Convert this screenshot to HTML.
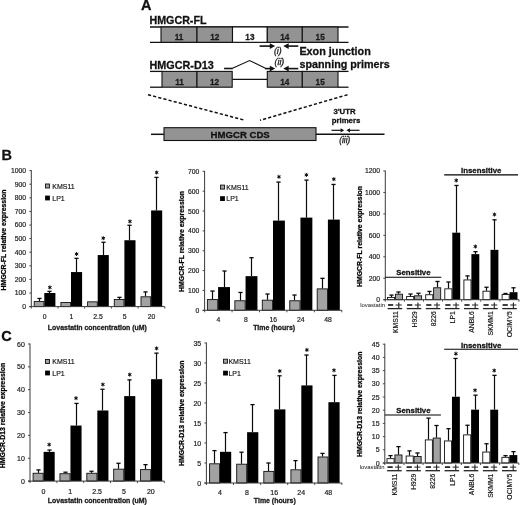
<!DOCTYPE html><html><head><meta charset="utf-8"><style>html,body{margin:0;padding:0;background:#fff;}svg{display:block;filter:grayscale(1);}text{font-family:"Liberation Sans",sans-serif;}</style></head><body>
<svg width="520" height="505" viewBox="0 0 520 505">
<rect width="520" height="505" fill="#fff"/>
<text x="141" y="10.1" font-size="14.5" font-weight="bold" text-anchor="start" fill="#111"  stroke="#111" stroke-width="0.28">A</text>
<text x="149.5" y="23.8" font-size="10.7" font-weight="bold" text-anchor="start" fill="#111"  stroke="#111" stroke-width="0.28">HMGCR-FL</text>
<line x1="150" y1="27" x2="348.5" y2="27" stroke="#111" stroke-width="1.3" />
<line x1="150" y1="42.3" x2="348.5" y2="42.3" stroke="#111" stroke-width="1.3" />
<rect x="161" y="27" width="36" height="15.3" fill="#939393" stroke="#111" stroke-width="1.1"/>
<text x="179" y="39.7" font-size="8.2" font-weight="bold" text-anchor="middle" fill="#1a1a1a"  stroke="#1a1a1a" stroke-width="0.28">11</text>
<rect x="197" y="27" width="35.5" height="15.3" fill="#939393" stroke="#111" stroke-width="1.1"/>
<text x="214.75" y="39.7" font-size="8.2" font-weight="bold" text-anchor="middle" fill="#1a1a1a"  stroke="#1a1a1a" stroke-width="0.28">12</text>
<rect x="232.5" y="27" width="34.8" height="15.3" fill="#fff" stroke="#111" stroke-width="1.1"/>
<text x="249.9" y="39.7" font-size="8.2" font-weight="bold" text-anchor="middle" fill="#1a1a1a"  stroke="#1a1a1a" stroke-width="0.28">13</text>
<rect x="267.3" y="27" width="35" height="15.3" fill="#939393" stroke="#111" stroke-width="1.1"/>
<text x="284.8" y="39.7" font-size="8.2" font-weight="bold" text-anchor="middle" fill="#1a1a1a"  stroke="#1a1a1a" stroke-width="0.28">14</text>
<rect x="302.3" y="27" width="35.7" height="15.3" fill="#939393" stroke="#111" stroke-width="1.1"/>
<text x="320.15" y="39.7" font-size="8.2" font-weight="bold" text-anchor="middle" fill="#1a1a1a"  stroke="#1a1a1a" stroke-width="0.28">15</text>
<text x="149.5" y="69.4" font-size="10.8" font-weight="bold" text-anchor="start" fill="#111"  stroke="#111" stroke-width="0.28">HMGCR-D13</text>
<line x1="150" y1="71.4" x2="162" y2="71.4" stroke="#111" stroke-width="1.3" />
<line x1="150" y1="87.2" x2="162" y2="87.2" stroke="#111" stroke-width="1.3" />
<line x1="232.2" y1="79.4" x2="267.3" y2="79.4" stroke="#111" stroke-width="1.2" />
<line x1="338" y1="71.4" x2="348.5" y2="71.4" stroke="#111" stroke-width="1.3" />
<line x1="338" y1="87.2" x2="348.5" y2="87.2" stroke="#111" stroke-width="1.3" />
<rect x="162" y="71.4" width="35" height="15.8" fill="#939393" stroke="#111" stroke-width="1.1"/>
<text x="179.5" y="84.9" font-size="8.2" font-weight="bold" text-anchor="middle" fill="#1a1a1a"  stroke="#1a1a1a" stroke-width="0.28">11</text>
<rect x="197" y="71.4" width="35.2" height="15.8" fill="#939393" stroke="#111" stroke-width="1.1"/>
<text x="214.6" y="84.9" font-size="8.2" font-weight="bold" text-anchor="middle" fill="#1a1a1a"  stroke="#1a1a1a" stroke-width="0.28">12</text>
<rect x="267.3" y="71.4" width="35" height="15.8" fill="#939393" stroke="#111" stroke-width="1.1"/>
<text x="284.8" y="84.9" font-size="8.2" font-weight="bold" text-anchor="middle" fill="#1a1a1a"  stroke="#1a1a1a" stroke-width="0.28">14</text>
<rect x="302.3" y="71.4" width="35.7" height="15.8" fill="#939393" stroke="#111" stroke-width="1.1"/>
<text x="320.15" y="84.9" font-size="8.2" font-weight="bold" text-anchor="middle" fill="#1a1a1a"  stroke="#1a1a1a" stroke-width="0.28">15</text>
<line x1="224.1" y1="68.5" x2="232.8" y2="68.5" stroke="#111" stroke-width="1.6" />
<polyline points="232.5,68.3 249.6,60.6 265.4,68.2" fill="none" stroke="#111" stroke-width="1.1"/>
<line x1="259.6" y1="46.1" x2="270.3" y2="46.1" stroke="#111" stroke-width="1.6" />
<polygon points="275.2,46.1 269.8,43.2 269.8,49" fill="#111"/>
<line x1="298.3" y1="46.1" x2="288.2" y2="46.1" stroke="#111" stroke-width="1.6" />
<polygon points="283.3,46.1 288.7,43.2 288.7,49" fill="#111"/>
<line x1="265" y1="68.6" x2="270.3" y2="68.6" stroke="#111" stroke-width="1.6" />
<polygon points="275.2,68.6 269.8,65.7 269.8,71.5" fill="#111"/>
<line x1="298.3" y1="68.6" x2="288.2" y2="68.6" stroke="#111" stroke-width="1.6" />
<polygon points="283.3,68.6 288.7,65.7 288.7,71.5" fill="#111"/>
<text x="277.8" y="53.8" font-size="8.8" font-weight="normal" text-anchor="middle" fill="#1a1a1a" font-style="italic" stroke="#1a1a1a" stroke-width="0.3">(i)</text>
<text x="279.4" y="65.3" font-size="8.8" font-weight="normal" text-anchor="middle" fill="#1a1a1a" font-style="italic" stroke="#1a1a1a" stroke-width="0.3">(ii)</text>
<text x="299.4" y="55.2" font-size="10.8" font-weight="bold" text-anchor="start" fill="#111"  stroke="#111" stroke-width="0.28">Exon junction</text>
<text x="299.5" y="68" font-size="10.75" font-weight="bold" text-anchor="start" fill="#111"  stroke="#111" stroke-width="0.28">spanning primers</text>
<line x1="148" y1="94.7" x2="245" y2="120.3" stroke="#111" stroke-width="1.5" stroke-dasharray="3.2,2.1"/>
<line x1="347.5" y1="94.7" x2="260" y2="120.3" stroke="#111" stroke-width="1.5" stroke-dasharray="3.2,2.1"/>
<line x1="151" y1="134.3" x2="164" y2="134.3" stroke="#111" stroke-width="1.5" />
<line x1="316" y1="134.3" x2="384.5" y2="134.3" stroke="#111" stroke-width="1.5" />
<rect x="164" y="127.7" width="152" height="12.8" fill="#939393" stroke="#111" stroke-width="1.1"/>
<text x="240.2" y="137.7" font-size="9.6" font-weight="bold" text-anchor="middle" fill="#111"  stroke="#111" stroke-width="0.28">HMGCR CDS</text>
<text x="344.5" y="114.3" font-size="7.8" font-weight="bold" text-anchor="middle" fill="#111"  stroke="#111" stroke-width="0.28">3'UTR</text>
<text x="346" y="123" font-size="7.8" font-weight="bold" text-anchor="middle" fill="#111"  stroke="#111" stroke-width="0.28">primers</text>
<line x1="331.5" y1="130.3" x2="341.1" y2="130.3" stroke="#111" stroke-width="1.2" />
<polygon points="344.2,130.3 340.6,128.2 340.6,132.4" fill="#111"/>
<line x1="359.5" y1="130.3" x2="349.5" y2="130.3" stroke="#111" stroke-width="1.2" />
<polygon points="346.4,130.3 350,128.2 350,132.4" fill="#111"/>
<text x="344.8" y="142.7" font-size="8.2" font-weight="normal" text-anchor="middle" fill="#1a1a1a" font-style="italic" stroke="#1a1a1a" stroke-width="0.3">(iii)</text>
<text x="1.6" y="160" font-size="14.5" font-weight="bold" text-anchor="start" fill="#111"  stroke="#111" stroke-width="0.28">B</text>
<text x="1.3" y="340.9" font-size="14.5" font-weight="bold" text-anchor="start" fill="#111"  stroke="#111" stroke-width="0.28">C</text>
<line x1="29.3" y1="306.6" x2="31.3" y2="306.6" stroke="#3a3a3a" stroke-width="0.9" />
<text x="26.1" y="309.05" font-size="6.8" font-weight="normal" text-anchor="end" fill="#1a1a1a" stroke="#1a1a1a" stroke-width="0.18">0</text>
<line x1="29.3" y1="293" x2="31.3" y2="293" stroke="#3a3a3a" stroke-width="0.9" />
<text x="26.1" y="295.45" font-size="6.8" font-weight="normal" text-anchor="end" fill="#1a1a1a" stroke="#1a1a1a" stroke-width="0.18">100</text>
<line x1="29.3" y1="279.4" x2="31.3" y2="279.4" stroke="#3a3a3a" stroke-width="0.9" />
<text x="26.1" y="281.85" font-size="6.8" font-weight="normal" text-anchor="end" fill="#1a1a1a" stroke="#1a1a1a" stroke-width="0.18">200</text>
<line x1="29.3" y1="265.8" x2="31.3" y2="265.8" stroke="#3a3a3a" stroke-width="0.9" />
<text x="26.1" y="268.25" font-size="6.8" font-weight="normal" text-anchor="end" fill="#1a1a1a" stroke="#1a1a1a" stroke-width="0.18">300</text>
<line x1="29.3" y1="252.2" x2="31.3" y2="252.2" stroke="#3a3a3a" stroke-width="0.9" />
<text x="26.1" y="254.65" font-size="6.8" font-weight="normal" text-anchor="end" fill="#1a1a1a" stroke="#1a1a1a" stroke-width="0.18">400</text>
<line x1="29.3" y1="238.6" x2="31.3" y2="238.6" stroke="#3a3a3a" stroke-width="0.9" />
<text x="26.1" y="241.05" font-size="6.8" font-weight="normal" text-anchor="end" fill="#1a1a1a" stroke="#1a1a1a" stroke-width="0.18">500</text>
<line x1="29.3" y1="225" x2="31.3" y2="225" stroke="#3a3a3a" stroke-width="0.9" />
<text x="26.1" y="227.45" font-size="6.8" font-weight="normal" text-anchor="end" fill="#1a1a1a" stroke="#1a1a1a" stroke-width="0.18">600</text>
<line x1="29.3" y1="211.4" x2="31.3" y2="211.4" stroke="#3a3a3a" stroke-width="0.9" />
<text x="26.1" y="213.85" font-size="6.8" font-weight="normal" text-anchor="end" fill="#1a1a1a" stroke="#1a1a1a" stroke-width="0.18">700</text>
<line x1="29.3" y1="197.8" x2="31.3" y2="197.8" stroke="#3a3a3a" stroke-width="0.9" />
<text x="26.1" y="200.25" font-size="6.8" font-weight="normal" text-anchor="end" fill="#1a1a1a" stroke="#1a1a1a" stroke-width="0.18">800</text>
<line x1="29.3" y1="184.2" x2="31.3" y2="184.2" stroke="#3a3a3a" stroke-width="0.9" />
<text x="26.1" y="186.65" font-size="6.8" font-weight="normal" text-anchor="end" fill="#1a1a1a" stroke="#1a1a1a" stroke-width="0.18">900</text>
<line x1="29.3" y1="170.6" x2="31.3" y2="170.6" stroke="#3a3a3a" stroke-width="0.9" />
<text x="26.1" y="173.05" font-size="6.8" font-weight="normal" text-anchor="end" fill="#1a1a1a" stroke="#1a1a1a" stroke-width="0.18">1000</text>
<line x1="39.5" y1="301.16" x2="39.5" y2="298.44" stroke="#0a0a0a" stroke-width="1.2" />
<line x1="37.4" y1="298.44" x2="41.6" y2="298.44" stroke="#0a0a0a" stroke-width="1.3" />
<rect x="34.2" y="301.56" width="9.7" height="5.04" fill="#a2a2a2" stroke="#111" stroke-width="0.9"/>
<line x1="49.5" y1="293" x2="49.5" y2="291.37" stroke="#0a0a0a" stroke-width="1.2" />
<line x1="47.4" y1="291.37" x2="51.6" y2="291.37" stroke="#0a0a0a" stroke-width="1.3" />
<rect x="44.3" y="293" width="11.1" height="13.6" fill="#000"/>
<rect x="60.9" y="302.51" width="9.7" height="4.09" fill="#a2a2a2" stroke="#111" stroke-width="0.9"/>
<line x1="76.5" y1="272.06" x2="76.5" y2="258.32" stroke="#0a0a0a" stroke-width="1.2" />
<line x1="74.4" y1="258.32" x2="78.6" y2="258.32" stroke="#0a0a0a" stroke-width="1.3" />
<rect x="71" y="272.06" width="11.1" height="34.54" fill="#000"/>
<rect x="87.6" y="301.83" width="9.7" height="4.77" fill="#a2a2a2" stroke="#111" stroke-width="0.9"/>
<line x1="103.5" y1="255.06" x2="103.5" y2="242.27" stroke="#0a0a0a" stroke-width="1.2" />
<line x1="101.4" y1="242.27" x2="105.6" y2="242.27" stroke="#0a0a0a" stroke-width="1.3" />
<rect x="97.7" y="255.06" width="11.1" height="51.54" fill="#000"/>
<line x1="119.5" y1="299.12" x2="119.5" y2="297.35" stroke="#0a0a0a" stroke-width="1.2" />
<line x1="117.4" y1="297.35" x2="121.6" y2="297.35" stroke="#0a0a0a" stroke-width="1.3" />
<rect x="114.3" y="299.52" width="9.7" height="7.08" fill="#a2a2a2" stroke="#111" stroke-width="0.9"/>
<line x1="129.5" y1="240.23" x2="129.5" y2="225.27" stroke="#0a0a0a" stroke-width="1.2" />
<line x1="127.4" y1="225.27" x2="131.6" y2="225.27" stroke="#0a0a0a" stroke-width="1.3" />
<rect x="124.4" y="240.23" width="11.1" height="66.37" fill="#000"/>
<line x1="145.5" y1="296.4" x2="145.5" y2="291.91" stroke="#0a0a0a" stroke-width="1.2" />
<line x1="143.4" y1="291.91" x2="147.6" y2="291.91" stroke="#0a0a0a" stroke-width="1.3" />
<rect x="141" y="296.8" width="9.7" height="9.8" fill="#a2a2a2" stroke="#111" stroke-width="0.9"/>
<line x1="156.5" y1="210.45" x2="156.5" y2="177.4" stroke="#0a0a0a" stroke-width="1.2" />
<line x1="154.4" y1="177.4" x2="158.6" y2="177.4" stroke="#0a0a0a" stroke-width="1.3" />
<rect x="151.1" y="210.45" width="11.1" height="96.15" fill="#000"/>
<circle cx="49.85" cy="287.4" r="1.0" fill="#000"/>
<line x1="49.85" y1="285.4" x2="49.85" y2="289.4" stroke="#111" stroke-width="1" />
<line x1="48.12" y1="286.4" x2="51.58" y2="288.4" stroke="#111" stroke-width="1" />
<line x1="51.58" y1="286.4" x2="48.12" y2="288.4" stroke="#111" stroke-width="1" />
<circle cx="76.55" cy="254" r="1.0" fill="#000"/>
<line x1="76.55" y1="252" x2="76.55" y2="256" stroke="#111" stroke-width="1" />
<line x1="74.82" y1="253" x2="78.28" y2="255" stroke="#111" stroke-width="1" />
<line x1="78.28" y1="253" x2="74.82" y2="255" stroke="#111" stroke-width="1" />
<circle cx="103.25" cy="238.2" r="1.0" fill="#000"/>
<line x1="103.25" y1="236.2" x2="103.25" y2="240.2" stroke="#111" stroke-width="1" />
<line x1="101.52" y1="237.2" x2="104.98" y2="239.2" stroke="#111" stroke-width="1" />
<line x1="104.98" y1="237.2" x2="101.52" y2="239.2" stroke="#111" stroke-width="1" />
<circle cx="129.95" cy="221.4" r="1.0" fill="#000"/>
<line x1="129.95" y1="219.4" x2="129.95" y2="223.4" stroke="#111" stroke-width="1" />
<line x1="128.22" y1="220.4" x2="131.68" y2="222.4" stroke="#111" stroke-width="1" />
<line x1="131.68" y1="220.4" x2="128.22" y2="222.4" stroke="#111" stroke-width="1" />
<circle cx="156.65" cy="172.5" r="1.0" fill="#000"/>
<line x1="156.65" y1="170.5" x2="156.65" y2="174.5" stroke="#111" stroke-width="1" />
<line x1="154.92" y1="171.5" x2="158.38" y2="173.5" stroke="#111" stroke-width="1" />
<line x1="158.38" y1="171.5" x2="154.92" y2="173.5" stroke="#111" stroke-width="1" />
<line x1="31.3" y1="170.1" x2="31.3" y2="307.1" stroke="#3a3a3a" stroke-width="1" />
<line x1="29.3" y1="306.6" x2="164.8" y2="306.6" stroke="#3a3a3a" stroke-width="1" />
<line x1="31.3" y1="306.6" x2="31.3" y2="308.6" stroke="#3a3a3a" stroke-width="0.9" />
<line x1="58" y1="306.6" x2="58" y2="308.6" stroke="#3a3a3a" stroke-width="0.9" />
<line x1="84.7" y1="306.6" x2="84.7" y2="308.6" stroke="#3a3a3a" stroke-width="0.9" />
<line x1="111.4" y1="306.6" x2="111.4" y2="308.6" stroke="#3a3a3a" stroke-width="0.9" />
<line x1="138.1" y1="306.6" x2="138.1" y2="308.6" stroke="#3a3a3a" stroke-width="0.9" />
<line x1="164.8" y1="306.6" x2="164.8" y2="308.6" stroke="#3a3a3a" stroke-width="0.9" />
<text x="44.65" y="318.5" font-size="6.8" font-weight="normal" text-anchor="middle" fill="#1a1a1a" stroke="#1a1a1a" stroke-width="0.18">0</text>
<text x="71.35" y="318.5" font-size="6.8" font-weight="normal" text-anchor="middle" fill="#1a1a1a" stroke="#1a1a1a" stroke-width="0.18">1</text>
<text x="98.05" y="318.5" font-size="6.8" font-weight="normal" text-anchor="middle" fill="#1a1a1a" stroke="#1a1a1a" stroke-width="0.18">2.5</text>
<text x="124.75" y="318.5" font-size="6.8" font-weight="normal" text-anchor="middle" fill="#1a1a1a" stroke="#1a1a1a" stroke-width="0.18">5</text>
<text x="151.45" y="318.5" font-size="6.8" font-weight="normal" text-anchor="middle" fill="#1a1a1a" stroke="#1a1a1a" stroke-width="0.18">20</text>
<text x="97.4" y="330.1" font-size="6.95" font-weight="bold" text-anchor="middle" fill="#1a1a1a"  stroke="#1a1a1a" stroke-width="0.28">Lovastatin concentration (uM)</text>
<text transform="translate(5.9,240) rotate(-90)" x="0" y="0" font-size="6.9" font-weight="bold" text-anchor="middle" fill="#000" stroke="#000" stroke-width="0.25">HMGCR-FL relative expression</text>
<rect x="45.5" y="184" width="4" height="4" fill="#a2a2a2" stroke="#111" stroke-width="0.9"/>
<rect x="45.1" y="195.6" width="4.8" height="4.8" fill="#000"/>
<text x="52.3" y="188.5" font-size="7" font-weight="normal" text-anchor="start" fill="#111" stroke="#111" stroke-width="0.15">KMS11</text>
<text x="52.3" y="200.5" font-size="7" font-weight="normal" text-anchor="start" fill="#111" stroke="#111" stroke-width="0.15">LP1</text>
<line x1="202.6" y1="310.3" x2="204.6" y2="310.3" stroke="#3a3a3a" stroke-width="0.9" />
<text x="199.4" y="312.75" font-size="6.8" font-weight="normal" text-anchor="end" fill="#1a1a1a" stroke="#1a1a1a" stroke-width="0.18">0</text>
<line x1="202.6" y1="290.45" x2="204.6" y2="290.45" stroke="#3a3a3a" stroke-width="0.9" />
<text x="199.4" y="292.9" font-size="6.8" font-weight="normal" text-anchor="end" fill="#1a1a1a" stroke="#1a1a1a" stroke-width="0.18">100</text>
<line x1="202.6" y1="270.6" x2="204.6" y2="270.6" stroke="#3a3a3a" stroke-width="0.9" />
<text x="199.4" y="273.05" font-size="6.8" font-weight="normal" text-anchor="end" fill="#1a1a1a" stroke="#1a1a1a" stroke-width="0.18">200</text>
<line x1="202.6" y1="250.75" x2="204.6" y2="250.75" stroke="#3a3a3a" stroke-width="0.9" />
<text x="199.4" y="253.2" font-size="6.8" font-weight="normal" text-anchor="end" fill="#1a1a1a" stroke="#1a1a1a" stroke-width="0.18">300</text>
<line x1="202.6" y1="230.9" x2="204.6" y2="230.9" stroke="#3a3a3a" stroke-width="0.9" />
<text x="199.4" y="233.35" font-size="6.8" font-weight="normal" text-anchor="end" fill="#1a1a1a" stroke="#1a1a1a" stroke-width="0.18">400</text>
<line x1="202.6" y1="211.05" x2="204.6" y2="211.05" stroke="#3a3a3a" stroke-width="0.9" />
<text x="199.4" y="213.5" font-size="6.8" font-weight="normal" text-anchor="end" fill="#1a1a1a" stroke="#1a1a1a" stroke-width="0.18">500</text>
<line x1="202.6" y1="191.2" x2="204.6" y2="191.2" stroke="#3a3a3a" stroke-width="0.9" />
<text x="199.4" y="193.65" font-size="6.8" font-weight="normal" text-anchor="end" fill="#1a1a1a" stroke="#1a1a1a" stroke-width="0.18">600</text>
<line x1="202.6" y1="171.35" x2="204.6" y2="171.35" stroke="#3a3a3a" stroke-width="0.9" />
<text x="199.4" y="173.8" font-size="6.8" font-weight="normal" text-anchor="end" fill="#1a1a1a" stroke="#1a1a1a" stroke-width="0.18">700</text>
<line x1="212.5" y1="299.18" x2="212.5" y2="291.05" stroke="#0a0a0a" stroke-width="1.2" />
<line x1="210.4" y1="291.05" x2="214.6" y2="291.05" stroke="#0a0a0a" stroke-width="1.3" />
<rect x="207.4" y="299.58" width="10.3" height="10.72" fill="#a2a2a2" stroke="#111" stroke-width="0.9"/>
<line x1="224.5" y1="287.08" x2="224.5" y2="271" stroke="#0a0a0a" stroke-width="1.2" />
<line x1="222.4" y1="271" x2="226.6" y2="271" stroke="#0a0a0a" stroke-width="1.3" />
<rect x="218.1" y="287.08" width="11.9" height="23.22" fill="#000"/>
<line x1="240.5" y1="300.38" x2="240.5" y2="292.44" stroke="#0a0a0a" stroke-width="1.2" />
<line x1="238.4" y1="292.44" x2="242.6" y2="292.44" stroke="#0a0a0a" stroke-width="1.3" />
<rect x="234.85" y="300.77" width="10.3" height="9.53" fill="#a2a2a2" stroke="#111" stroke-width="0.9"/>
<line x1="251.5" y1="276.16" x2="251.5" y2="257.7" stroke="#0a0a0a" stroke-width="1.2" />
<line x1="249.4" y1="257.7" x2="253.6" y2="257.7" stroke="#0a0a0a" stroke-width="1.3" />
<rect x="245.55" y="276.16" width="11.9" height="34.14" fill="#000"/>
<line x1="267.5" y1="299.78" x2="267.5" y2="294.02" stroke="#0a0a0a" stroke-width="1.2" />
<line x1="265.4" y1="294.02" x2="269.6" y2="294.02" stroke="#0a0a0a" stroke-width="1.3" />
<rect x="262.3" y="300.18" width="10.3" height="10.12" fill="#a2a2a2" stroke="#111" stroke-width="0.9"/>
<line x1="278.5" y1="220.58" x2="278.5" y2="182.07" stroke="#0a0a0a" stroke-width="1.2" />
<line x1="276.4" y1="182.07" x2="280.6" y2="182.07" stroke="#0a0a0a" stroke-width="1.3" />
<rect x="273" y="220.58" width="11.9" height="89.72" fill="#000"/>
<line x1="294.5" y1="300.38" x2="294.5" y2="295.02" stroke="#0a0a0a" stroke-width="1.2" />
<line x1="292.4" y1="295.02" x2="296.6" y2="295.02" stroke="#0a0a0a" stroke-width="1.3" />
<rect x="289.75" y="300.77" width="10.3" height="9.53" fill="#a2a2a2" stroke="#111" stroke-width="0.9"/>
<line x1="306.5" y1="217.6" x2="306.5" y2="180.08" stroke="#0a0a0a" stroke-width="1.2" />
<line x1="304.4" y1="180.08" x2="308.6" y2="180.08" stroke="#0a0a0a" stroke-width="1.3" />
<rect x="300.45" y="217.6" width="11.9" height="92.7" fill="#000"/>
<line x1="322.5" y1="288.47" x2="322.5" y2="278.34" stroke="#0a0a0a" stroke-width="1.2" />
<line x1="320.4" y1="278.34" x2="324.6" y2="278.34" stroke="#0a0a0a" stroke-width="1.3" />
<rect x="317.2" y="288.87" width="10.3" height="21.44" fill="#a2a2a2" stroke="#111" stroke-width="0.9"/>
<line x1="333.5" y1="219.59" x2="333.5" y2="184.45" stroke="#0a0a0a" stroke-width="1.2" />
<line x1="331.4" y1="184.45" x2="335.6" y2="184.45" stroke="#0a0a0a" stroke-width="1.3" />
<rect x="327.9" y="219.59" width="11.9" height="90.71" fill="#000"/>
<circle cx="278.95" cy="176.8" r="1.0" fill="#000"/>
<line x1="278.95" y1="174.8" x2="278.95" y2="178.8" stroke="#111" stroke-width="1" />
<line x1="277.22" y1="175.8" x2="280.68" y2="177.8" stroke="#111" stroke-width="1" />
<line x1="280.68" y1="175.8" x2="277.22" y2="177.8" stroke="#111" stroke-width="1" />
<circle cx="306.4" cy="174.9" r="1.0" fill="#000"/>
<line x1="306.4" y1="172.9" x2="306.4" y2="176.9" stroke="#111" stroke-width="1" />
<line x1="304.67" y1="173.9" x2="308.13" y2="175.9" stroke="#111" stroke-width="1" />
<line x1="308.13" y1="173.9" x2="304.67" y2="175.9" stroke="#111" stroke-width="1" />
<circle cx="333.85" cy="179.2" r="1.0" fill="#000"/>
<line x1="333.85" y1="177.2" x2="333.85" y2="181.2" stroke="#111" stroke-width="1" />
<line x1="332.12" y1="178.2" x2="335.58" y2="180.2" stroke="#111" stroke-width="1" />
<line x1="335.58" y1="178.2" x2="332.12" y2="180.2" stroke="#111" stroke-width="1" />
<line x1="204.6" y1="170.85" x2="204.6" y2="310.8" stroke="#3a3a3a" stroke-width="1" />
<line x1="202.6" y1="310.3" x2="341.85" y2="310.3" stroke="#3a3a3a" stroke-width="1" />
<line x1="204.6" y1="310.3" x2="204.6" y2="312.3" stroke="#3a3a3a" stroke-width="0.9" />
<line x1="232.05" y1="310.3" x2="232.05" y2="312.3" stroke="#3a3a3a" stroke-width="0.9" />
<line x1="259.5" y1="310.3" x2="259.5" y2="312.3" stroke="#3a3a3a" stroke-width="0.9" />
<line x1="286.95" y1="310.3" x2="286.95" y2="312.3" stroke="#3a3a3a" stroke-width="0.9" />
<line x1="314.4" y1="310.3" x2="314.4" y2="312.3" stroke="#3a3a3a" stroke-width="0.9" />
<line x1="341.85" y1="310.3" x2="341.85" y2="312.3" stroke="#3a3a3a" stroke-width="0.9" />
<text x="218.32" y="322.2" font-size="6.8" font-weight="normal" text-anchor="middle" fill="#1a1a1a" stroke="#1a1a1a" stroke-width="0.18">4</text>
<text x="245.77" y="322.2" font-size="6.8" font-weight="normal" text-anchor="middle" fill="#1a1a1a" stroke="#1a1a1a" stroke-width="0.18">8</text>
<text x="273.23" y="322.2" font-size="6.8" font-weight="normal" text-anchor="middle" fill="#1a1a1a" stroke="#1a1a1a" stroke-width="0.18">16</text>
<text x="300.68" y="322.2" font-size="6.8" font-weight="normal" text-anchor="middle" fill="#1a1a1a" stroke="#1a1a1a" stroke-width="0.18">24</text>
<text x="328.12" y="322.2" font-size="6.8" font-weight="normal" text-anchor="middle" fill="#1a1a1a" stroke="#1a1a1a" stroke-width="0.18">48</text>
<text x="274.2" y="329.5" font-size="6.95" font-weight="bold" text-anchor="middle" fill="#1a1a1a"  stroke="#1a1a1a" stroke-width="0.28">Time (hours)</text>
<text transform="translate(183.5,241.4) rotate(-90)" x="0" y="0" font-size="6.9" font-weight="bold" text-anchor="middle" fill="#000" stroke="#000" stroke-width="0.25">HMGCR-FL relative expression</text>
<rect x="220.5" y="185.1" width="4" height="4" fill="#a2a2a2" stroke="#111" stroke-width="0.9"/>
<rect x="220.1" y="196.2" width="4.8" height="4.8" fill="#000"/>
<text x="226.3" y="189.6" font-size="7" font-weight="normal" text-anchor="start" fill="#111" stroke="#111" stroke-width="0.15">KMS11</text>
<text x="226.3" y="201.1" font-size="7" font-weight="normal" text-anchor="start" fill="#111" stroke="#111" stroke-width="0.15">LP1</text>
<line x1="383.3" y1="299.7" x2="385.3" y2="299.7" stroke="#3a3a3a" stroke-width="0.9" />
<text x="380.1" y="302.15" font-size="6.8" font-weight="normal" text-anchor="end" fill="#1a1a1a" stroke="#1a1a1a" stroke-width="0.18">0</text>
<line x1="383.3" y1="278.25" x2="385.3" y2="278.25" stroke="#3a3a3a" stroke-width="0.9" />
<text x="380.1" y="280.7" font-size="6.8" font-weight="normal" text-anchor="end" fill="#1a1a1a" stroke="#1a1a1a" stroke-width="0.18">200</text>
<line x1="383.3" y1="256.8" x2="385.3" y2="256.8" stroke="#3a3a3a" stroke-width="0.9" />
<text x="380.1" y="259.25" font-size="6.8" font-weight="normal" text-anchor="end" fill="#1a1a1a" stroke="#1a1a1a" stroke-width="0.18">400</text>
<line x1="383.3" y1="235.35" x2="385.3" y2="235.35" stroke="#3a3a3a" stroke-width="0.9" />
<text x="380.1" y="237.8" font-size="6.8" font-weight="normal" text-anchor="end" fill="#1a1a1a" stroke="#1a1a1a" stroke-width="0.18">600</text>
<line x1="383.3" y1="213.9" x2="385.3" y2="213.9" stroke="#3a3a3a" stroke-width="0.9" />
<text x="380.1" y="216.35" font-size="6.8" font-weight="normal" text-anchor="end" fill="#1a1a1a" stroke="#1a1a1a" stroke-width="0.18">800</text>
<line x1="383.3" y1="192.45" x2="385.3" y2="192.45" stroke="#3a3a3a" stroke-width="0.9" />
<text x="380.1" y="194.9" font-size="6.8" font-weight="normal" text-anchor="end" fill="#1a1a1a" stroke="#1a1a1a" stroke-width="0.18">1000</text>
<line x1="383.3" y1="171" x2="385.3" y2="171" stroke="#3a3a3a" stroke-width="0.9" />
<text x="380.1" y="173.45" font-size="6.8" font-weight="normal" text-anchor="end" fill="#1a1a1a" stroke="#1a1a1a" stroke-width="0.18">1200</text>
<line x1="391.5" y1="297.02" x2="391.5" y2="295.09" stroke="#0a0a0a" stroke-width="1.2" />
<line x1="389.4" y1="295.09" x2="393.6" y2="295.09" stroke="#0a0a0a" stroke-width="1.3" />
<rect x="387.5" y="297.42" width="7.1" height="2.28" fill="#fff" stroke="#111" stroke-width="0.9"/>
<line x1="398.5" y1="293.8" x2="398.5" y2="291.98" stroke="#0a0a0a" stroke-width="1.2" />
<line x1="396.4" y1="291.98" x2="400.6" y2="291.98" stroke="#0a0a0a" stroke-width="1.3" />
<rect x="395.4" y="294.2" width="7.1" height="5.5" fill="#a2a2a2" stroke="#111" stroke-width="0.9"/>
<line x1="410.5" y1="296.16" x2="410.5" y2="294.02" stroke="#0a0a0a" stroke-width="1.2" />
<line x1="408.4" y1="294.02" x2="412.6" y2="294.02" stroke="#0a0a0a" stroke-width="1.3" />
<rect x="406.6" y="296.56" width="7.1" height="3.14" fill="#fff" stroke="#111" stroke-width="0.9"/>
<line x1="418.5" y1="295.41" x2="418.5" y2="293.26" stroke="#0a0a0a" stroke-width="1.2" />
<line x1="416.4" y1="293.26" x2="420.6" y2="293.26" stroke="#0a0a0a" stroke-width="1.3" />
<rect x="414.5" y="295.81" width="7.1" height="3.89" fill="#a2a2a2" stroke="#111" stroke-width="0.9"/>
<line x1="429.5" y1="294.34" x2="429.5" y2="291.44" stroke="#0a0a0a" stroke-width="1.2" />
<line x1="427.4" y1="291.44" x2="431.6" y2="291.44" stroke="#0a0a0a" stroke-width="1.3" />
<rect x="425.7" y="294.74" width="7.1" height="4.96" fill="#fff" stroke="#111" stroke-width="0.9"/>
<line x1="437.5" y1="287.37" x2="437.5" y2="281.47" stroke="#0a0a0a" stroke-width="1.2" />
<line x1="435.4" y1="281.47" x2="439.6" y2="281.47" stroke="#0a0a0a" stroke-width="1.3" />
<rect x="433.6" y="287.77" width="7.1" height="11.93" fill="#a2a2a2" stroke="#111" stroke-width="0.9"/>
<line x1="448.5" y1="288.44" x2="448.5" y2="282" stroke="#0a0a0a" stroke-width="1.2" />
<line x1="446.4" y1="282" x2="450.6" y2="282" stroke="#0a0a0a" stroke-width="1.3" />
<rect x="444.8" y="288.84" width="7.1" height="10.86" fill="#fff" stroke="#111" stroke-width="0.9"/>
<line x1="456.5" y1="232.67" x2="456.5" y2="185.48" stroke="#0a0a0a" stroke-width="1.2" />
<line x1="454.4" y1="185.48" x2="458.6" y2="185.48" stroke="#0a0a0a" stroke-width="1.3" />
<rect x="452.3" y="232.67" width="7.9" height="67.03" fill="#000"/>
<line x1="467.5" y1="279.54" x2="467.5" y2="275.89" stroke="#0a0a0a" stroke-width="1.2" />
<line x1="465.4" y1="275.89" x2="469.6" y2="275.89" stroke="#0a0a0a" stroke-width="1.3" />
<rect x="463.9" y="279.94" width="7.1" height="19.76" fill="#fff" stroke="#111" stroke-width="0.9"/>
<line x1="475.5" y1="254.12" x2="475.5" y2="251.65" stroke="#0a0a0a" stroke-width="1.2" />
<line x1="473.4" y1="251.65" x2="477.6" y2="251.65" stroke="#0a0a0a" stroke-width="1.3" />
<rect x="471.4" y="254.12" width="7.9" height="45.58" fill="#000"/>
<line x1="486.5" y1="290.8" x2="486.5" y2="287.26" stroke="#0a0a0a" stroke-width="1.2" />
<line x1="484.4" y1="287.26" x2="488.6" y2="287.26" stroke="#0a0a0a" stroke-width="1.3" />
<rect x="483" y="291.2" width="7.1" height="8.5" fill="#fff" stroke="#111" stroke-width="0.9"/>
<line x1="494.5" y1="249.83" x2="494.5" y2="219.8" stroke="#0a0a0a" stroke-width="1.2" />
<line x1="492.4" y1="219.8" x2="496.6" y2="219.8" stroke="#0a0a0a" stroke-width="1.3" />
<rect x="490.5" y="249.83" width="7.9" height="49.87" fill="#000"/>
<line x1="505.5" y1="294.12" x2="505.5" y2="293.48" stroke="#0a0a0a" stroke-width="1.2" />
<line x1="503.4" y1="293.48" x2="507.6" y2="293.48" stroke="#0a0a0a" stroke-width="1.3" />
<rect x="502.1" y="294.52" width="7.1" height="5.18" fill="#fff" stroke="#111" stroke-width="0.9"/>
<line x1="513.5" y1="292.19" x2="513.5" y2="287.8" stroke="#0a0a0a" stroke-width="1.2" />
<line x1="511.4" y1="287.8" x2="515.6" y2="287.8" stroke="#0a0a0a" stroke-width="1.3" />
<rect x="509.6" y="292.19" width="7.9" height="7.51" fill="#000"/>
<circle cx="456.25" cy="180.4" r="1.0" fill="#000"/>
<line x1="456.25" y1="178.4" x2="456.25" y2="182.4" stroke="#111" stroke-width="1" />
<line x1="454.52" y1="179.4" x2="457.98" y2="181.4" stroke="#111" stroke-width="1" />
<line x1="457.98" y1="179.4" x2="454.52" y2="181.4" stroke="#111" stroke-width="1" />
<circle cx="475.35" cy="246.5" r="1.0" fill="#000"/>
<line x1="475.35" y1="244.5" x2="475.35" y2="248.5" stroke="#111" stroke-width="1" />
<line x1="473.62" y1="245.5" x2="477.08" y2="247.5" stroke="#111" stroke-width="1" />
<line x1="477.08" y1="245.5" x2="473.62" y2="247.5" stroke="#111" stroke-width="1" />
<circle cx="494.45" cy="214.5" r="1.0" fill="#000"/>
<line x1="494.45" y1="212.5" x2="494.45" y2="216.5" stroke="#111" stroke-width="1" />
<line x1="492.72" y1="213.5" x2="496.18" y2="215.5" stroke="#111" stroke-width="1" />
<line x1="496.18" y1="213.5" x2="492.72" y2="215.5" stroke="#111" stroke-width="1" />
<line x1="385.3" y1="170.5" x2="385.3" y2="300.2" stroke="#3a3a3a" stroke-width="1" />
<line x1="383.3" y1="299.7" x2="519" y2="299.7" stroke="#3a3a3a" stroke-width="1" />
<line x1="385.3" y1="299.7" x2="385.3" y2="301.7" stroke="#3a3a3a" stroke-width="0.9" />
<line x1="404.4" y1="299.7" x2="404.4" y2="301.7" stroke="#3a3a3a" stroke-width="0.9" />
<line x1="423.5" y1="299.7" x2="423.5" y2="301.7" stroke="#3a3a3a" stroke-width="0.9" />
<line x1="442.6" y1="299.7" x2="442.6" y2="301.7" stroke="#3a3a3a" stroke-width="0.9" />
<line x1="461.7" y1="299.7" x2="461.7" y2="301.7" stroke="#3a3a3a" stroke-width="0.9" />
<line x1="480.8" y1="299.7" x2="480.8" y2="301.7" stroke="#3a3a3a" stroke-width="0.9" />
<line x1="499.9" y1="299.7" x2="499.9" y2="301.7" stroke="#3a3a3a" stroke-width="0.9" />
<line x1="519" y1="299.7" x2="519" y2="301.7" stroke="#3a3a3a" stroke-width="0.9" />
<text transform="translate(362,236.5) rotate(-90)" x="0" y="0" font-size="6.9" font-weight="bold" text-anchor="middle" fill="#000" stroke="#000" stroke-width="0.25">HMGCR-FL relative expression</text>
<line x1="385.3" y1="277.2" x2="441.26" y2="277.2" stroke="#000" stroke-width="1.1" />
<text x="413.4" y="275.2" font-size="7.8" font-weight="bold" text-anchor="middle" fill="#111"  stroke="#111" stroke-width="0.28">Sensitive</text>
<line x1="444.2" y1="174.9" x2="518" y2="174.9" stroke="#000" stroke-width="1.1" />
<text x="481.2" y="173.2" font-size="7.8" font-weight="bold" text-anchor="middle" fill="#111"  stroke="#111" stroke-width="0.28">Insensitive</text>
<text x="385.1" y="306.8" font-size="5.9" font-weight="normal" text-anchor="end" fill="#111" >lovastatin</text>
<line x1="388" y1="305" x2="393.2" y2="305" stroke="#2a2a2a" stroke-width="1.8" />
<line x1="395.6" y1="305" x2="401.8" y2="305" stroke="#222" stroke-width="1" />
<line x1="398.8" y1="302.4" x2="398.8" y2="308.4" stroke="#222" stroke-width="1.1" />
<line x1="387.6" y1="308.6" x2="402.2" y2="308.6" stroke="#222" stroke-width="1.3" />
<line x1="407.1" y1="305" x2="412.3" y2="305" stroke="#2a2a2a" stroke-width="1.8" />
<line x1="414.7" y1="305" x2="420.9" y2="305" stroke="#222" stroke-width="1" />
<line x1="417.9" y1="302.4" x2="417.9" y2="308.4" stroke="#222" stroke-width="1.1" />
<line x1="406.7" y1="308.6" x2="421.3" y2="308.6" stroke="#222" stroke-width="1.3" />
<line x1="426.2" y1="305" x2="431.4" y2="305" stroke="#2a2a2a" stroke-width="1.8" />
<line x1="433.8" y1="305" x2="440" y2="305" stroke="#222" stroke-width="1" />
<line x1="437" y1="302.4" x2="437" y2="308.4" stroke="#222" stroke-width="1.1" />
<line x1="425.8" y1="308.6" x2="440.4" y2="308.6" stroke="#222" stroke-width="1.3" />
<line x1="445.3" y1="305" x2="450.5" y2="305" stroke="#2a2a2a" stroke-width="1.8" />
<line x1="452.9" y1="305" x2="459.1" y2="305" stroke="#222" stroke-width="1" />
<line x1="456.1" y1="302.4" x2="456.1" y2="308.4" stroke="#222" stroke-width="1.1" />
<line x1="444.9" y1="308.6" x2="459.5" y2="308.6" stroke="#222" stroke-width="1.3" />
<line x1="464.4" y1="305" x2="469.6" y2="305" stroke="#2a2a2a" stroke-width="1.8" />
<line x1="472" y1="305" x2="478.2" y2="305" stroke="#222" stroke-width="1" />
<line x1="475.2" y1="302.4" x2="475.2" y2="308.4" stroke="#222" stroke-width="1.1" />
<line x1="464" y1="308.6" x2="478.6" y2="308.6" stroke="#222" stroke-width="1.3" />
<line x1="483.5" y1="305" x2="488.7" y2="305" stroke="#2a2a2a" stroke-width="1.8" />
<line x1="491.1" y1="305" x2="497.3" y2="305" stroke="#222" stroke-width="1" />
<line x1="494.3" y1="302.4" x2="494.3" y2="308.4" stroke="#222" stroke-width="1.1" />
<line x1="483.1" y1="308.6" x2="497.7" y2="308.6" stroke="#222" stroke-width="1.3" />
<line x1="502.6" y1="305" x2="507.8" y2="305" stroke="#2a2a2a" stroke-width="1.8" />
<line x1="510.2" y1="305" x2="516.4" y2="305" stroke="#222" stroke-width="1" />
<line x1="513.4" y1="302.4" x2="513.4" y2="308.4" stroke="#222" stroke-width="1.1" />
<line x1="502.2" y1="308.6" x2="516.8" y2="308.6" stroke="#222" stroke-width="1.3" />
<text transform="translate(397.65,311.2) rotate(-90) scale(1.08,1)" x="0" y="0" font-size="6.3" text-anchor="end" fill="#111" stroke="#111" stroke-width="0.15">KMS11</text>
<text transform="translate(416.75,311.2) rotate(-90) scale(1.08,1)" x="0" y="0" font-size="6.3" text-anchor="end" fill="#111" stroke="#111" stroke-width="0.15">H929</text>
<text transform="translate(435.85,311.2) rotate(-90) scale(1.08,1)" x="0" y="0" font-size="6.3" text-anchor="end" fill="#111" stroke="#111" stroke-width="0.15">8226</text>
<text transform="translate(454.95,311.2) rotate(-90) scale(1.08,1)" x="0" y="0" font-size="6.3" text-anchor="end" fill="#111" stroke="#111" stroke-width="0.15">LP1</text>
<text transform="translate(474.05,311.2) rotate(-90) scale(1.08,1)" x="0" y="0" font-size="6.3" text-anchor="end" fill="#111" stroke="#111" stroke-width="0.15">ANBL6</text>
<text transform="translate(493.15,311.2) rotate(-90) scale(1.08,1)" x="0" y="0" font-size="6.3" text-anchor="end" fill="#111" stroke="#111" stroke-width="0.15">SKMM1</text>
<text transform="translate(512.25,311.2) rotate(-90) scale(1.08,1)" x="0" y="0" font-size="6.3" text-anchor="end" fill="#111" stroke="#111" stroke-width="0.15">OCIMY5</text>
<line x1="28" y1="481.1" x2="30" y2="481.1" stroke="#3a3a3a" stroke-width="0.9" />
<text x="24.8" y="483.62" font-size="7" font-weight="normal" text-anchor="end" fill="#1a1a1a" stroke="#1a1a1a" stroke-width="0.18">0</text>
<line x1="28" y1="458.25" x2="30" y2="458.25" stroke="#3a3a3a" stroke-width="0.9" />
<text x="24.8" y="460.77" font-size="7" font-weight="normal" text-anchor="end" fill="#1a1a1a" stroke="#1a1a1a" stroke-width="0.18">10</text>
<line x1="28" y1="435.4" x2="30" y2="435.4" stroke="#3a3a3a" stroke-width="0.9" />
<text x="24.8" y="437.92" font-size="7" font-weight="normal" text-anchor="end" fill="#1a1a1a" stroke="#1a1a1a" stroke-width="0.18">20</text>
<line x1="28" y1="412.55" x2="30" y2="412.55" stroke="#3a3a3a" stroke-width="0.9" />
<text x="24.8" y="415.07" font-size="7" font-weight="normal" text-anchor="end" fill="#1a1a1a" stroke="#1a1a1a" stroke-width="0.18">30</text>
<line x1="28" y1="389.7" x2="30" y2="389.7" stroke="#3a3a3a" stroke-width="0.9" />
<text x="24.8" y="392.22" font-size="7" font-weight="normal" text-anchor="end" fill="#1a1a1a" stroke="#1a1a1a" stroke-width="0.18">40</text>
<line x1="28" y1="366.85" x2="30" y2="366.85" stroke="#3a3a3a" stroke-width="0.9" />
<text x="24.8" y="369.37" font-size="7" font-weight="normal" text-anchor="end" fill="#1a1a1a" stroke="#1a1a1a" stroke-width="0.18">50</text>
<line x1="28" y1="344" x2="30" y2="344" stroke="#3a3a3a" stroke-width="0.9" />
<text x="24.8" y="346.52" font-size="7" font-weight="normal" text-anchor="end" fill="#1a1a1a" stroke="#1a1a1a" stroke-width="0.18">60</text>
<line x1="38.5" y1="472.87" x2="38.5" y2="469.9" stroke="#0a0a0a" stroke-width="1.2" />
<line x1="36.4" y1="469.9" x2="40.6" y2="469.9" stroke="#0a0a0a" stroke-width="1.3" />
<rect x="33.1" y="473.27" width="10.1" height="7.83" fill="#a2a2a2" stroke="#111" stroke-width="0.9"/>
<line x1="49.5" y1="451.85" x2="49.5" y2="450.02" stroke="#0a0a0a" stroke-width="1.2" />
<line x1="47.4" y1="450.02" x2="51.6" y2="450.02" stroke="#0a0a0a" stroke-width="1.3" />
<rect x="43.6" y="451.85" width="11.1" height="29.25" fill="#000"/>
<line x1="65.5" y1="473.33" x2="65.5" y2="472.19" stroke="#0a0a0a" stroke-width="1.2" />
<line x1="63.4" y1="472.19" x2="67.6" y2="472.19" stroke="#0a0a0a" stroke-width="1.3" />
<rect x="59.96" y="473.73" width="10.1" height="7.37" fill="#a2a2a2" stroke="#111" stroke-width="0.9"/>
<line x1="76.5" y1="425.57" x2="76.5" y2="403.41" stroke="#0a0a0a" stroke-width="1.2" />
<line x1="74.4" y1="403.41" x2="78.6" y2="403.41" stroke="#0a0a0a" stroke-width="1.3" />
<rect x="70.46" y="425.57" width="11.1" height="55.53" fill="#000"/>
<line x1="91.5" y1="472.87" x2="91.5" y2="471.27" stroke="#0a0a0a" stroke-width="1.2" />
<line x1="89.4" y1="471.27" x2="93.6" y2="471.27" stroke="#0a0a0a" stroke-width="1.3" />
<rect x="86.82" y="473.27" width="10.1" height="7.83" fill="#a2a2a2" stroke="#111" stroke-width="0.9"/>
<line x1="102.5" y1="410.49" x2="102.5" y2="389.24" stroke="#0a0a0a" stroke-width="1.2" />
<line x1="100.4" y1="389.24" x2="104.6" y2="389.24" stroke="#0a0a0a" stroke-width="1.3" />
<rect x="97.32" y="410.49" width="11.1" height="70.61" fill="#000"/>
<line x1="118.5" y1="468.76" x2="118.5" y2="463.28" stroke="#0a0a0a" stroke-width="1.2" />
<line x1="116.4" y1="463.28" x2="120.6" y2="463.28" stroke="#0a0a0a" stroke-width="1.3" />
<rect x="113.68" y="469.16" width="10.1" height="11.94" fill="#a2a2a2" stroke="#111" stroke-width="0.9"/>
<line x1="129.5" y1="396.1" x2="129.5" y2="379.87" stroke="#0a0a0a" stroke-width="1.2" />
<line x1="127.4" y1="379.87" x2="131.6" y2="379.87" stroke="#0a0a0a" stroke-width="1.3" />
<rect x="124.18" y="396.1" width="11.1" height="85" fill="#000"/>
<line x1="145.5" y1="469.22" x2="145.5" y2="464.65" stroke="#0a0a0a" stroke-width="1.2" />
<line x1="143.4" y1="464.65" x2="147.6" y2="464.65" stroke="#0a0a0a" stroke-width="1.3" />
<rect x="140.54" y="469.62" width="10.1" height="11.48" fill="#a2a2a2" stroke="#111" stroke-width="0.9"/>
<line x1="156.5" y1="379.19" x2="156.5" y2="353.14" stroke="#0a0a0a" stroke-width="1.2" />
<line x1="154.4" y1="353.14" x2="158.6" y2="353.14" stroke="#0a0a0a" stroke-width="1.3" />
<rect x="151.04" y="379.19" width="11.1" height="101.91" fill="#000"/>
<circle cx="49.15" cy="444.6" r="1.0" fill="#000"/>
<line x1="49.15" y1="442.6" x2="49.15" y2="446.6" stroke="#111" stroke-width="1" />
<line x1="47.42" y1="443.6" x2="50.88" y2="445.6" stroke="#111" stroke-width="1" />
<line x1="50.88" y1="443.6" x2="47.42" y2="445.6" stroke="#111" stroke-width="1" />
<circle cx="76.01" cy="398.2" r="1.0" fill="#000"/>
<line x1="76.01" y1="396.2" x2="76.01" y2="400.2" stroke="#111" stroke-width="1" />
<line x1="74.28" y1="397.2" x2="77.74" y2="399.2" stroke="#111" stroke-width="1" />
<line x1="77.74" y1="397.2" x2="74.28" y2="399.2" stroke="#111" stroke-width="1" />
<circle cx="102.87" cy="384.5" r="1.0" fill="#000"/>
<line x1="102.87" y1="382.5" x2="102.87" y2="386.5" stroke="#111" stroke-width="1" />
<line x1="101.14" y1="383.5" x2="104.6" y2="385.5" stroke="#111" stroke-width="1" />
<line x1="104.6" y1="383.5" x2="101.14" y2="385.5" stroke="#111" stroke-width="1" />
<circle cx="129.73" cy="374.6" r="1.0" fill="#000"/>
<line x1="129.73" y1="372.6" x2="129.73" y2="376.6" stroke="#111" stroke-width="1" />
<line x1="128" y1="373.6" x2="131.46" y2="375.6" stroke="#111" stroke-width="1" />
<line x1="131.46" y1="373.6" x2="128" y2="375.6" stroke="#111" stroke-width="1" />
<circle cx="156.59" cy="348.4" r="1.0" fill="#000"/>
<line x1="156.59" y1="346.4" x2="156.59" y2="350.4" stroke="#111" stroke-width="1" />
<line x1="154.86" y1="347.4" x2="158.32" y2="349.4" stroke="#111" stroke-width="1" />
<line x1="158.32" y1="347.4" x2="154.86" y2="349.4" stroke="#111" stroke-width="1" />
<line x1="30" y1="343.5" x2="30" y2="481.6" stroke="#3a3a3a" stroke-width="1" />
<line x1="28" y1="481.1" x2="164.3" y2="481.1" stroke="#3a3a3a" stroke-width="1" />
<line x1="30" y1="481.1" x2="30" y2="483.1" stroke="#3a3a3a" stroke-width="0.9" />
<line x1="56.86" y1="481.1" x2="56.86" y2="483.1" stroke="#3a3a3a" stroke-width="0.9" />
<line x1="83.72" y1="481.1" x2="83.72" y2="483.1" stroke="#3a3a3a" stroke-width="0.9" />
<line x1="110.58" y1="481.1" x2="110.58" y2="483.1" stroke="#3a3a3a" stroke-width="0.9" />
<line x1="137.44" y1="481.1" x2="137.44" y2="483.1" stroke="#3a3a3a" stroke-width="0.9" />
<line x1="164.3" y1="481.1" x2="164.3" y2="483.1" stroke="#3a3a3a" stroke-width="0.9" />
<text x="43.43" y="494" font-size="7" font-weight="normal" text-anchor="middle" fill="#1a1a1a" stroke="#1a1a1a" stroke-width="0.18">0</text>
<text x="70.29" y="494" font-size="7" font-weight="normal" text-anchor="middle" fill="#1a1a1a" stroke="#1a1a1a" stroke-width="0.18">1</text>
<text x="97.15" y="494" font-size="7" font-weight="normal" text-anchor="middle" fill="#1a1a1a" stroke="#1a1a1a" stroke-width="0.18">2.5</text>
<text x="124.01" y="494" font-size="7" font-weight="normal" text-anchor="middle" fill="#1a1a1a" stroke="#1a1a1a" stroke-width="0.18">5</text>
<text x="150.87" y="494" font-size="7" font-weight="normal" text-anchor="middle" fill="#1a1a1a" stroke="#1a1a1a" stroke-width="0.18">20</text>
<text x="97.4" y="503.4" font-size="6.95" font-weight="bold" text-anchor="middle" fill="#1a1a1a"  stroke="#1a1a1a" stroke-width="0.28">Lovastatin concentration (uM)</text>
<text transform="translate(5.4,415.5) rotate(-90)" x="0" y="0" font-size="6.9" font-weight="bold" text-anchor="middle" fill="#000" stroke="#000" stroke-width="0.25">HMGCR-D13 relative expression</text>
<rect x="45.5" y="359.5" width="4" height="4" fill="#a2a2a2" stroke="#111" stroke-width="0.9"/>
<rect x="45.1" y="370.6" width="4.8" height="4.8" fill="#000"/>
<text x="52.3" y="364" font-size="7" font-weight="normal" text-anchor="start" fill="#111" stroke="#111" stroke-width="0.15">KMS11</text>
<text x="52.3" y="375.5" font-size="7" font-weight="normal" text-anchor="start" fill="#111" stroke="#111" stroke-width="0.15">LP1</text>
<line x1="204.4" y1="483" x2="206.4" y2="483" stroke="#3a3a3a" stroke-width="0.9" />
<text x="201.2" y="485.52" font-size="7" font-weight="normal" text-anchor="end" fill="#1a1a1a" stroke="#1a1a1a" stroke-width="0.18">0</text>
<line x1="204.4" y1="463" x2="206.4" y2="463" stroke="#3a3a3a" stroke-width="0.9" />
<text x="201.2" y="465.52" font-size="7" font-weight="normal" text-anchor="end" fill="#1a1a1a" stroke="#1a1a1a" stroke-width="0.18">5</text>
<line x1="204.4" y1="443" x2="206.4" y2="443" stroke="#3a3a3a" stroke-width="0.9" />
<text x="201.2" y="445.52" font-size="7" font-weight="normal" text-anchor="end" fill="#1a1a1a" stroke="#1a1a1a" stroke-width="0.18">10</text>
<line x1="204.4" y1="423" x2="206.4" y2="423" stroke="#3a3a3a" stroke-width="0.9" />
<text x="201.2" y="425.52" font-size="7" font-weight="normal" text-anchor="end" fill="#1a1a1a" stroke="#1a1a1a" stroke-width="0.18">15</text>
<line x1="204.4" y1="403" x2="206.4" y2="403" stroke="#3a3a3a" stroke-width="0.9" />
<text x="201.2" y="405.52" font-size="7" font-weight="normal" text-anchor="end" fill="#1a1a1a" stroke="#1a1a1a" stroke-width="0.18">20</text>
<line x1="204.4" y1="383" x2="206.4" y2="383" stroke="#3a3a3a" stroke-width="0.9" />
<text x="201.2" y="385.52" font-size="7" font-weight="normal" text-anchor="end" fill="#1a1a1a" stroke="#1a1a1a" stroke-width="0.18">25</text>
<line x1="204.4" y1="363" x2="206.4" y2="363" stroke="#3a3a3a" stroke-width="0.9" />
<text x="201.2" y="365.52" font-size="7" font-weight="normal" text-anchor="end" fill="#1a1a1a" stroke="#1a1a1a" stroke-width="0.18">30</text>
<line x1="204.4" y1="343" x2="206.4" y2="343" stroke="#3a3a3a" stroke-width="0.9" />
<text x="201.2" y="345.52" font-size="7" font-weight="normal" text-anchor="end" fill="#1a1a1a" stroke="#1a1a1a" stroke-width="0.18">35</text>
<line x1="214.5" y1="463.4" x2="214.5" y2="450.6" stroke="#0a0a0a" stroke-width="1.2" />
<line x1="212.4" y1="450.6" x2="216.6" y2="450.6" stroke="#0a0a0a" stroke-width="1.3" />
<rect x="209.6" y="463.8" width="10" height="19.2" fill="#a2a2a2" stroke="#111" stroke-width="0.9"/>
<line x1="225.5" y1="451.8" x2="225.5" y2="432.6" stroke="#0a0a0a" stroke-width="1.2" />
<line x1="223.4" y1="432.6" x2="227.6" y2="432.6" stroke="#0a0a0a" stroke-width="1.3" />
<rect x="220" y="451.8" width="11.2" height="31.2" fill="#000"/>
<line x1="241.5" y1="463.8" x2="241.5" y2="452.2" stroke="#0a0a0a" stroke-width="1.2" />
<line x1="239.4" y1="452.2" x2="243.6" y2="452.2" stroke="#0a0a0a" stroke-width="1.3" />
<rect x="236.7" y="464.2" width="10" height="18.8" fill="#a2a2a2" stroke="#111" stroke-width="0.9"/>
<line x1="252.5" y1="432.2" x2="252.5" y2="404.6" stroke="#0a0a0a" stroke-width="1.2" />
<line x1="250.4" y1="404.6" x2="254.6" y2="404.6" stroke="#0a0a0a" stroke-width="1.3" />
<rect x="247.1" y="432.2" width="11.2" height="50.8" fill="#000"/>
<line x1="268.5" y1="471" x2="268.5" y2="463" stroke="#0a0a0a" stroke-width="1.2" />
<line x1="266.4" y1="463" x2="270.6" y2="463" stroke="#0a0a0a" stroke-width="1.3" />
<rect x="263.8" y="471.4" width="10" height="11.6" fill="#a2a2a2" stroke="#111" stroke-width="0.9"/>
<line x1="279.5" y1="409.4" x2="279.5" y2="375.8" stroke="#0a0a0a" stroke-width="1.2" />
<line x1="277.4" y1="375.8" x2="281.6" y2="375.8" stroke="#0a0a0a" stroke-width="1.3" />
<rect x="274.2" y="409.4" width="11.2" height="73.6" fill="#000"/>
<line x1="295.5" y1="469.4" x2="295.5" y2="460.6" stroke="#0a0a0a" stroke-width="1.2" />
<line x1="293.4" y1="460.6" x2="297.6" y2="460.6" stroke="#0a0a0a" stroke-width="1.3" />
<rect x="290.9" y="469.8" width="10" height="13.2" fill="#a2a2a2" stroke="#111" stroke-width="0.9"/>
<line x1="306.5" y1="385.4" x2="306.5" y2="355" stroke="#0a0a0a" stroke-width="1.2" />
<line x1="304.4" y1="355" x2="308.6" y2="355" stroke="#0a0a0a" stroke-width="1.3" />
<rect x="301.3" y="385.4" width="11.2" height="97.6" fill="#000"/>
<line x1="322.5" y1="456.6" x2="322.5" y2="453.4" stroke="#0a0a0a" stroke-width="1.2" />
<line x1="320.4" y1="453.4" x2="324.6" y2="453.4" stroke="#0a0a0a" stroke-width="1.3" />
<rect x="318" y="457" width="10" height="26" fill="#a2a2a2" stroke="#111" stroke-width="0.9"/>
<line x1="334.5" y1="402.2" x2="334.5" y2="375.4" stroke="#0a0a0a" stroke-width="1.2" />
<line x1="332.4" y1="375.4" x2="336.6" y2="375.4" stroke="#0a0a0a" stroke-width="1.3" />
<rect x="328.4" y="402.2" width="11.2" height="80.8" fill="#000"/>
<circle cx="279.8" cy="371.1" r="1.0" fill="#000"/>
<line x1="279.8" y1="369.1" x2="279.8" y2="373.1" stroke="#111" stroke-width="1" />
<line x1="278.07" y1="370.1" x2="281.53" y2="372.1" stroke="#111" stroke-width="1" />
<line x1="281.53" y1="370.1" x2="278.07" y2="372.1" stroke="#111" stroke-width="1" />
<circle cx="306.9" cy="349.9" r="1.0" fill="#000"/>
<line x1="306.9" y1="347.9" x2="306.9" y2="351.9" stroke="#111" stroke-width="1" />
<line x1="305.17" y1="348.9" x2="308.63" y2="350.9" stroke="#111" stroke-width="1" />
<line x1="308.63" y1="348.9" x2="305.17" y2="350.9" stroke="#111" stroke-width="1" />
<circle cx="334" cy="370.3" r="1.0" fill="#000"/>
<line x1="334" y1="368.3" x2="334" y2="372.3" stroke="#111" stroke-width="1" />
<line x1="332.27" y1="369.3" x2="335.73" y2="371.3" stroke="#111" stroke-width="1" />
<line x1="335.73" y1="369.3" x2="332.27" y2="371.3" stroke="#111" stroke-width="1" />
<line x1="206.4" y1="342.5" x2="206.4" y2="483.5" stroke="#3a3a3a" stroke-width="1" />
<line x1="204.4" y1="483" x2="341.9" y2="483" stroke="#3a3a3a" stroke-width="1" />
<line x1="206.4" y1="483" x2="206.4" y2="485" stroke="#3a3a3a" stroke-width="0.9" />
<line x1="233.5" y1="483" x2="233.5" y2="485" stroke="#3a3a3a" stroke-width="0.9" />
<line x1="260.6" y1="483" x2="260.6" y2="485" stroke="#3a3a3a" stroke-width="0.9" />
<line x1="287.7" y1="483" x2="287.7" y2="485" stroke="#3a3a3a" stroke-width="0.9" />
<line x1="314.8" y1="483" x2="314.8" y2="485" stroke="#3a3a3a" stroke-width="0.9" />
<line x1="341.9" y1="483" x2="341.9" y2="485" stroke="#3a3a3a" stroke-width="0.9" />
<text x="219.95" y="494.6" font-size="7" font-weight="normal" text-anchor="middle" fill="#1a1a1a" stroke="#1a1a1a" stroke-width="0.18">4</text>
<text x="247.05" y="494.6" font-size="7" font-weight="normal" text-anchor="middle" fill="#1a1a1a" stroke="#1a1a1a" stroke-width="0.18">8</text>
<text x="274.15" y="494.6" font-size="7" font-weight="normal" text-anchor="middle" fill="#1a1a1a" stroke="#1a1a1a" stroke-width="0.18">16</text>
<text x="301.25" y="494.6" font-size="7" font-weight="normal" text-anchor="middle" fill="#1a1a1a" stroke="#1a1a1a" stroke-width="0.18">24</text>
<text x="328.35" y="494.6" font-size="7" font-weight="normal" text-anchor="middle" fill="#1a1a1a" stroke="#1a1a1a" stroke-width="0.18">48</text>
<text x="274.8" y="503.3" font-size="6.95" font-weight="bold" text-anchor="middle" fill="#1a1a1a"  stroke="#1a1a1a" stroke-width="0.28">Time (hours)</text>
<text transform="translate(183.7,413.3) rotate(-90)" x="0" y="0" font-size="6.9" font-weight="bold" text-anchor="middle" fill="#000" stroke="#000" stroke-width="0.25">HMGCR-D13 relative expression</text>
<rect x="223.5" y="359.2" width="4" height="4" fill="#a2a2a2" stroke="#111" stroke-width="0.9"/>
<rect x="223.1" y="370.7" width="4.8" height="4.8" fill="#000"/>
<text x="228.4" y="363.7" font-size="7" font-weight="normal" text-anchor="start" fill="#111" stroke="#111" stroke-width="0.15">KMS11</text>
<text x="228.4" y="375.6" font-size="7" font-weight="normal" text-anchor="start" fill="#111" stroke="#111" stroke-width="0.15">LP1</text>
<line x1="382.8" y1="463" x2="384.8" y2="463" stroke="#3a3a3a" stroke-width="0.9" />
<text x="379.6" y="465.52" font-size="7" font-weight="normal" text-anchor="end" fill="#1a1a1a" stroke="#1a1a1a" stroke-width="0.18">0</text>
<line x1="382.8" y1="449.8" x2="384.8" y2="449.8" stroke="#3a3a3a" stroke-width="0.9" />
<text x="379.6" y="452.32" font-size="7" font-weight="normal" text-anchor="end" fill="#1a1a1a" stroke="#1a1a1a" stroke-width="0.18">5</text>
<line x1="382.8" y1="436.6" x2="384.8" y2="436.6" stroke="#3a3a3a" stroke-width="0.9" />
<text x="379.6" y="439.12" font-size="7" font-weight="normal" text-anchor="end" fill="#1a1a1a" stroke="#1a1a1a" stroke-width="0.18">10</text>
<line x1="382.8" y1="423.4" x2="384.8" y2="423.4" stroke="#3a3a3a" stroke-width="0.9" />
<text x="379.6" y="425.92" font-size="7" font-weight="normal" text-anchor="end" fill="#1a1a1a" stroke="#1a1a1a" stroke-width="0.18">15</text>
<line x1="382.8" y1="410.2" x2="384.8" y2="410.2" stroke="#3a3a3a" stroke-width="0.9" />
<text x="379.6" y="412.72" font-size="7" font-weight="normal" text-anchor="end" fill="#1a1a1a" stroke="#1a1a1a" stroke-width="0.18">20</text>
<line x1="382.8" y1="397" x2="384.8" y2="397" stroke="#3a3a3a" stroke-width="0.9" />
<text x="379.6" y="399.52" font-size="7" font-weight="normal" text-anchor="end" fill="#1a1a1a" stroke="#1a1a1a" stroke-width="0.18">25</text>
<line x1="382.8" y1="383.8" x2="384.8" y2="383.8" stroke="#3a3a3a" stroke-width="0.9" />
<text x="379.6" y="386.32" font-size="7" font-weight="normal" text-anchor="end" fill="#1a1a1a" stroke="#1a1a1a" stroke-width="0.18">30</text>
<line x1="382.8" y1="370.6" x2="384.8" y2="370.6" stroke="#3a3a3a" stroke-width="0.9" />
<text x="379.6" y="373.12" font-size="7" font-weight="normal" text-anchor="end" fill="#1a1a1a" stroke="#1a1a1a" stroke-width="0.18">35</text>
<line x1="382.8" y1="357.4" x2="384.8" y2="357.4" stroke="#3a3a3a" stroke-width="0.9" />
<text x="379.6" y="359.92" font-size="7" font-weight="normal" text-anchor="end" fill="#1a1a1a" stroke="#1a1a1a" stroke-width="0.18">40</text>
<line x1="382.8" y1="344.2" x2="384.8" y2="344.2" stroke="#3a3a3a" stroke-width="0.9" />
<text x="379.6" y="346.72" font-size="7" font-weight="normal" text-anchor="end" fill="#1a1a1a" stroke="#1a1a1a" stroke-width="0.18">45</text>
<line x1="390.5" y1="458.25" x2="390.5" y2="455.61" stroke="#0a0a0a" stroke-width="1.2" />
<line x1="388.4" y1="455.61" x2="392.6" y2="455.61" stroke="#0a0a0a" stroke-width="1.3" />
<rect x="387" y="458.65" width="7.1" height="4.35" fill="#fff" stroke="#111" stroke-width="0.9"/>
<line x1="398.5" y1="454.55" x2="398.5" y2="446.63" stroke="#0a0a0a" stroke-width="1.2" />
<line x1="396.4" y1="446.63" x2="400.6" y2="446.63" stroke="#0a0a0a" stroke-width="1.3" />
<rect x="394.9" y="454.95" width="7.1" height="8.05" fill="#a2a2a2" stroke="#111" stroke-width="0.9"/>
<line x1="409.5" y1="455.61" x2="409.5" y2="450.86" stroke="#0a0a0a" stroke-width="1.2" />
<line x1="407.4" y1="450.86" x2="411.6" y2="450.86" stroke="#0a0a0a" stroke-width="1.3" />
<rect x="406.15" y="456.01" width="7.1" height="6.99" fill="#fff" stroke="#111" stroke-width="0.9"/>
<line x1="417.5" y1="456.14" x2="417.5" y2="452.97" stroke="#0a0a0a" stroke-width="1.2" />
<line x1="415.4" y1="452.97" x2="419.6" y2="452.97" stroke="#0a0a0a" stroke-width="1.3" />
<rect x="414.05" y="456.54" width="7.1" height="6.46" fill="#a2a2a2" stroke="#111" stroke-width="0.9"/>
<line x1="428.5" y1="439.5" x2="428.5" y2="418.12" stroke="#0a0a0a" stroke-width="1.2" />
<line x1="426.4" y1="418.12" x2="430.6" y2="418.12" stroke="#0a0a0a" stroke-width="1.3" />
<rect x="425.3" y="439.9" width="7.1" height="23.1" fill="#fff" stroke="#111" stroke-width="0.9"/>
<line x1="436.5" y1="437.66" x2="436.5" y2="425.51" stroke="#0a0a0a" stroke-width="1.2" />
<line x1="434.4" y1="425.51" x2="438.6" y2="425.51" stroke="#0a0a0a" stroke-width="1.3" />
<rect x="433.2" y="438.06" width="7.1" height="24.94" fill="#a2a2a2" stroke="#111" stroke-width="0.9"/>
<line x1="448.5" y1="440.56" x2="448.5" y2="428.68" stroke="#0a0a0a" stroke-width="1.2" />
<line x1="446.4" y1="428.68" x2="450.6" y2="428.68" stroke="#0a0a0a" stroke-width="1.3" />
<rect x="444.45" y="440.96" width="7.1" height="22.04" fill="#fff" stroke="#111" stroke-width="0.9"/>
<line x1="455.5" y1="396.74" x2="455.5" y2="358.46" stroke="#0a0a0a" stroke-width="1.2" />
<line x1="453.4" y1="358.46" x2="457.6" y2="358.46" stroke="#0a0a0a" stroke-width="1.3" />
<rect x="451.95" y="396.74" width="7.9" height="66.26" fill="#000"/>
<line x1="467.5" y1="434.49" x2="467.5" y2="425.25" stroke="#0a0a0a" stroke-width="1.2" />
<line x1="465.4" y1="425.25" x2="469.6" y2="425.25" stroke="#0a0a0a" stroke-width="1.3" />
<rect x="463.6" y="434.89" width="7.1" height="28.11" fill="#fff" stroke="#111" stroke-width="0.9"/>
<line x1="475.5" y1="409.67" x2="475.5" y2="395.15" stroke="#0a0a0a" stroke-width="1.2" />
<line x1="473.4" y1="395.15" x2="477.6" y2="395.15" stroke="#0a0a0a" stroke-width="1.3" />
<rect x="471.1" y="409.67" width="7.9" height="53.33" fill="#000"/>
<line x1="486.5" y1="451.65" x2="486.5" y2="443.73" stroke="#0a0a0a" stroke-width="1.2" />
<line x1="484.4" y1="443.73" x2="488.6" y2="443.73" stroke="#0a0a0a" stroke-width="1.3" />
<rect x="482.75" y="452.05" width="7.1" height="10.95" fill="#fff" stroke="#111" stroke-width="0.9"/>
<line x1="494.5" y1="409.67" x2="494.5" y2="375.35" stroke="#0a0a0a" stroke-width="1.2" />
<line x1="492.4" y1="375.35" x2="496.6" y2="375.35" stroke="#0a0a0a" stroke-width="1.3" />
<rect x="490.25" y="409.67" width="7.9" height="53.33" fill="#000"/>
<line x1="505.5" y1="456.93" x2="505.5" y2="455.61" stroke="#0a0a0a" stroke-width="1.2" />
<line x1="503.4" y1="455.61" x2="507.6" y2="455.61" stroke="#0a0a0a" stroke-width="1.3" />
<rect x="501.9" y="457.33" width="7.1" height="5.67" fill="#fff" stroke="#111" stroke-width="0.9"/>
<line x1="513.5" y1="455.08" x2="513.5" y2="451.65" stroke="#0a0a0a" stroke-width="1.2" />
<line x1="511.4" y1="451.65" x2="515.6" y2="451.65" stroke="#0a0a0a" stroke-width="1.3" />
<rect x="509.4" y="455.08" width="7.9" height="7.92" fill="#000"/>
<circle cx="455.9" cy="353.7" r="1.0" fill="#000"/>
<line x1="455.9" y1="351.7" x2="455.9" y2="355.7" stroke="#111" stroke-width="1" />
<line x1="454.17" y1="352.7" x2="457.63" y2="354.7" stroke="#111" stroke-width="1" />
<line x1="457.63" y1="352.7" x2="454.17" y2="354.7" stroke="#111" stroke-width="1" />
<circle cx="475.05" cy="390.3" r="1.0" fill="#000"/>
<line x1="475.05" y1="388.3" x2="475.05" y2="392.3" stroke="#111" stroke-width="1" />
<line x1="473.32" y1="389.3" x2="476.78" y2="391.3" stroke="#111" stroke-width="1" />
<line x1="476.78" y1="389.3" x2="473.32" y2="391.3" stroke="#111" stroke-width="1" />
<circle cx="494.2" cy="370.5" r="1.0" fill="#000"/>
<line x1="494.2" y1="368.5" x2="494.2" y2="372.5" stroke="#111" stroke-width="1" />
<line x1="492.47" y1="369.5" x2="495.93" y2="371.5" stroke="#111" stroke-width="1" />
<line x1="495.93" y1="369.5" x2="492.47" y2="371.5" stroke="#111" stroke-width="1" />
<line x1="384.8" y1="343.7" x2="384.8" y2="463.5" stroke="#3a3a3a" stroke-width="1" />
<line x1="382.8" y1="463" x2="518.85" y2="463" stroke="#3a3a3a" stroke-width="1" />
<line x1="384.8" y1="463" x2="384.8" y2="465" stroke="#3a3a3a" stroke-width="0.9" />
<line x1="403.95" y1="463" x2="403.95" y2="465" stroke="#3a3a3a" stroke-width="0.9" />
<line x1="423.1" y1="463" x2="423.1" y2="465" stroke="#3a3a3a" stroke-width="0.9" />
<line x1="442.25" y1="463" x2="442.25" y2="465" stroke="#3a3a3a" stroke-width="0.9" />
<line x1="461.4" y1="463" x2="461.4" y2="465" stroke="#3a3a3a" stroke-width="0.9" />
<line x1="480.55" y1="463" x2="480.55" y2="465" stroke="#3a3a3a" stroke-width="0.9" />
<line x1="499.7" y1="463" x2="499.7" y2="465" stroke="#3a3a3a" stroke-width="0.9" />
<line x1="518.85" y1="463" x2="518.85" y2="465" stroke="#3a3a3a" stroke-width="0.9" />
<text transform="translate(361.8,404.3) rotate(-90)" x="0" y="0" font-size="6.9" font-weight="bold" text-anchor="middle" fill="#000" stroke="#000" stroke-width="0.25">HMGCR-D13 relative expression</text>
<line x1="384.8" y1="415" x2="440.91" y2="415" stroke="#000" stroke-width="1.1" />
<text x="413.4" y="413" font-size="7.8" font-weight="bold" text-anchor="middle" fill="#111"  stroke="#111" stroke-width="0.28">Sensitive</text>
<line x1="444.2" y1="349.3" x2="518" y2="349.3" stroke="#000" stroke-width="1.1" />
<text x="481.2" y="347.6" font-size="7.8" font-weight="bold" text-anchor="middle" fill="#111"  stroke="#111" stroke-width="0.28">Insensitive</text>
<text x="384.6" y="468.9" font-size="5.9" font-weight="normal" text-anchor="end" fill="#111" >lovastatin</text>
<line x1="387.5" y1="467.1" x2="392.7" y2="467.1" stroke="#2a2a2a" stroke-width="1.8" />
<line x1="395.1" y1="467.1" x2="401.3" y2="467.1" stroke="#222" stroke-width="1" />
<line x1="398.3" y1="464.5" x2="398.3" y2="470.5" stroke="#222" stroke-width="1.1" />
<line x1="387.1" y1="470.7" x2="401.7" y2="470.7" stroke="#222" stroke-width="1.3" />
<line x1="406.65" y1="467.1" x2="411.85" y2="467.1" stroke="#2a2a2a" stroke-width="1.8" />
<line x1="414.25" y1="467.1" x2="420.45" y2="467.1" stroke="#222" stroke-width="1" />
<line x1="417.45" y1="464.5" x2="417.45" y2="470.5" stroke="#222" stroke-width="1.1" />
<line x1="406.25" y1="470.7" x2="420.85" y2="470.7" stroke="#222" stroke-width="1.3" />
<line x1="425.8" y1="467.1" x2="431" y2="467.1" stroke="#2a2a2a" stroke-width="1.8" />
<line x1="433.4" y1="467.1" x2="439.6" y2="467.1" stroke="#222" stroke-width="1" />
<line x1="436.6" y1="464.5" x2="436.6" y2="470.5" stroke="#222" stroke-width="1.1" />
<line x1="425.4" y1="470.7" x2="440" y2="470.7" stroke="#222" stroke-width="1.3" />
<line x1="444.95" y1="467.1" x2="450.15" y2="467.1" stroke="#2a2a2a" stroke-width="1.8" />
<line x1="452.55" y1="467.1" x2="458.75" y2="467.1" stroke="#222" stroke-width="1" />
<line x1="455.75" y1="464.5" x2="455.75" y2="470.5" stroke="#222" stroke-width="1.1" />
<line x1="444.55" y1="470.7" x2="459.15" y2="470.7" stroke="#222" stroke-width="1.3" />
<line x1="464.1" y1="467.1" x2="469.3" y2="467.1" stroke="#2a2a2a" stroke-width="1.8" />
<line x1="471.7" y1="467.1" x2="477.9" y2="467.1" stroke="#222" stroke-width="1" />
<line x1="474.9" y1="464.5" x2="474.9" y2="470.5" stroke="#222" stroke-width="1.1" />
<line x1="463.7" y1="470.7" x2="478.3" y2="470.7" stroke="#222" stroke-width="1.3" />
<line x1="483.25" y1="467.1" x2="488.45" y2="467.1" stroke="#2a2a2a" stroke-width="1.8" />
<line x1="490.85" y1="467.1" x2="497.05" y2="467.1" stroke="#222" stroke-width="1" />
<line x1="494.05" y1="464.5" x2="494.05" y2="470.5" stroke="#222" stroke-width="1.1" />
<line x1="482.85" y1="470.7" x2="497.45" y2="470.7" stroke="#222" stroke-width="1.3" />
<line x1="502.4" y1="467.1" x2="507.6" y2="467.1" stroke="#2a2a2a" stroke-width="1.8" />
<line x1="510" y1="467.1" x2="516.2" y2="467.1" stroke="#222" stroke-width="1" />
<line x1="513.2" y1="464.5" x2="513.2" y2="470.5" stroke="#222" stroke-width="1.1" />
<line x1="502" y1="470.7" x2="516.6" y2="470.7" stroke="#222" stroke-width="1.3" />
<text transform="translate(397.18,473.6) rotate(-90) scale(1.08,1)" x="0" y="0" font-size="6.3" text-anchor="end" fill="#111" stroke="#111" stroke-width="0.15">KMS11</text>
<text transform="translate(416.33,473.6) rotate(-90) scale(1.08,1)" x="0" y="0" font-size="6.3" text-anchor="end" fill="#111" stroke="#111" stroke-width="0.15">H929</text>
<text transform="translate(435.48,473.6) rotate(-90) scale(1.08,1)" x="0" y="0" font-size="6.3" text-anchor="end" fill="#111" stroke="#111" stroke-width="0.15">8226</text>
<text transform="translate(454.62,473.6) rotate(-90) scale(1.08,1)" x="0" y="0" font-size="6.3" text-anchor="end" fill="#111" stroke="#111" stroke-width="0.15">LP1</text>
<text transform="translate(473.78,473.6) rotate(-90) scale(1.08,1)" x="0" y="0" font-size="6.3" text-anchor="end" fill="#111" stroke="#111" stroke-width="0.15">ANBL6</text>
<text transform="translate(492.93,473.6) rotate(-90) scale(1.08,1)" x="0" y="0" font-size="6.3" text-anchor="end" fill="#111" stroke="#111" stroke-width="0.15">SKMM1</text>
<text transform="translate(512.07,473.6) rotate(-90) scale(1.08,1)" x="0" y="0" font-size="6.3" text-anchor="end" fill="#111" stroke="#111" stroke-width="0.15">OCIMY5</text>
</svg></body></html>
